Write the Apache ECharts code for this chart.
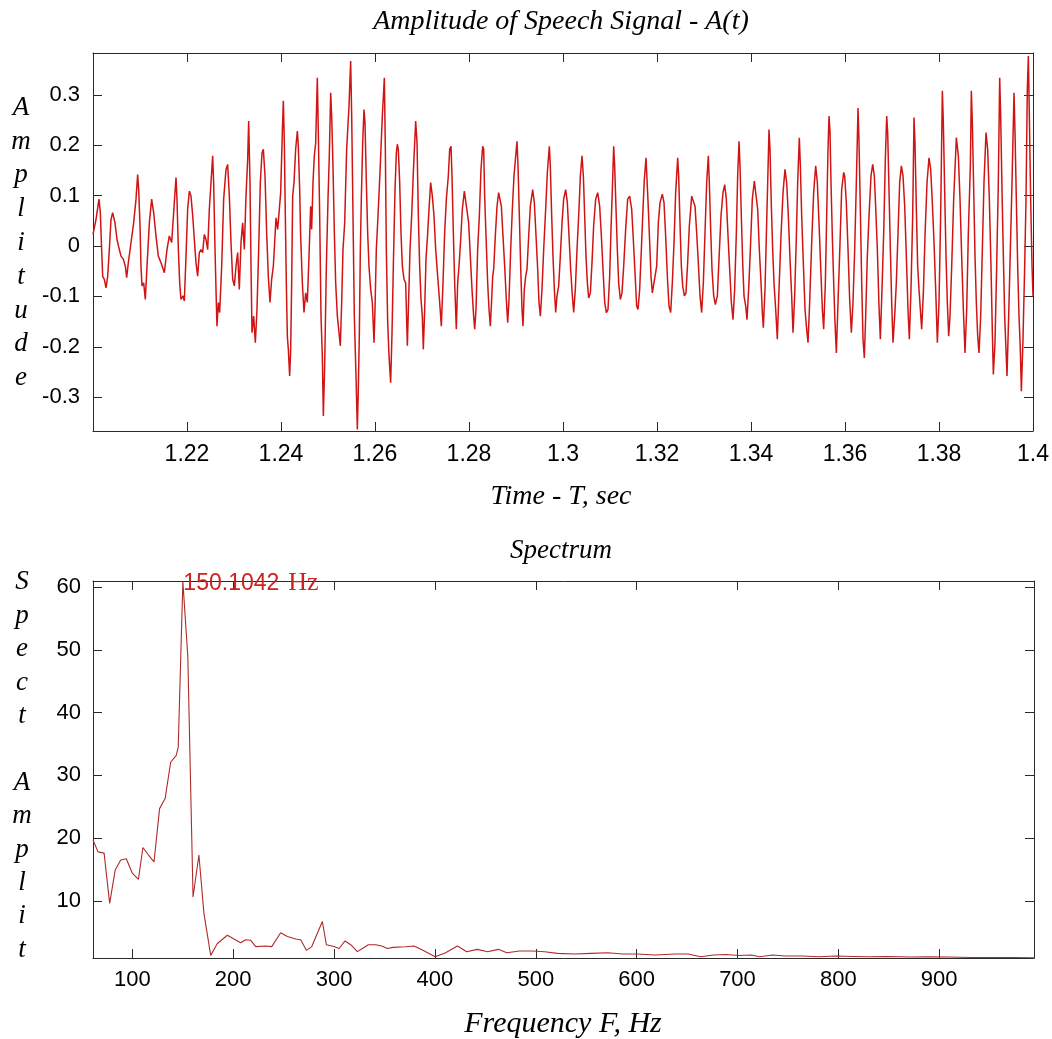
<!DOCTYPE html>
<html>
<head>
<meta charset="utf-8">
<script src="https://cdn.jsdelivr.net/npm/echarts@6/dist/echarts.min.js"></script>
<style>
  html, body { margin: 0; padding: 0; background: #ffffff; }
  #chart { width: 1052px; height: 1039px; }
</style>
</head>
<body>
<div id="chart"></div>
<script>
// ---------------- Data ----------------
// Speech signal A(t): time in seconds, amplitude
const sigT = [
  1.20000,1.20064,1.20128,1.20156,1.20184,1.20206,1.20241,1.20277,1.20312,1.20348,
  1.20383,1.20418,1.20468,1.20511,1.20560,1.20596,1.20645,1.20688,1.20716,1.20752,
  1.20809,1.20865,1.20915,1.20950,1.20972,1.21000,1.21021,1.21043,1.21078,1.21113,
  1.21149,1.21199,1.21248,1.21291,1.21340,1.21390,1.21447,1.21518,1.21574,1.21624,
  1.21674,1.21730,1.21766,1.21787,1.21816,1.21844,1.21872,1.21915,1.21943,1.21979,
  1.22014,1.22050,1.22085,1.22121,1.22156,1.22191,1.22227,1.22262,1.22298,1.22333,
  1.22369,1.22404,1.22440,1.22475,1.22511,1.22546,1.22567,1.22596,1.22624,1.22638,
  1.22667,1.22695,1.22738,1.22780,1.22830,1.22865,1.22901,1.22936,1.22972,1.23007,
  1.23043,1.23078,1.23113,1.23149,1.23184,1.23220,1.23255,1.23291,1.23312,1.23340,
  1.23362,1.23383,1.23418,1.23454,1.23489,1.23525,1.23560,1.23596,1.23624,1.23660,
  1.23695,1.23730,1.23766,1.23801,1.23837,1.23865,1.23894,1.23929,
  1.23993,1.24028,1.24050,1.24071,1.24092,1.24113,1.24135,1.24156,1.24184,1.24206,
  1.24227,1.24248,1.24277,1.24312,1.24348,1.24369,1.24397,1.24418,1.24454,1.24489,
  1.24525,1.24560,1.24596,1.24631,1.24652,1.24681,1.24709,1.24738,1.24773,1.24794,
  1.24823,1.24851,1.24879,1.24901,1.24929,1.24965,1.25000,1.25028,1.25057,1.25078,
  1.25106,1.25135,1.25163,1.25199,1.25234,1.25262,1.25291,1.25319,1.25355,1.25397,
  1.25447,1.25482,1.25504,1.25532,1.25560,1.25582,1.25603,1.25624,1.25645,1.25667,
  1.25688,1.25709,1.25738,1.25766,1.25787,1.25816,1.25844,1.25872,1.25908,1.25943,
  1.25979,1.26000,1.26028,1.26064,1.26106,1.26156,1.26199,1.26220,1.26241,1.26270,
  1.26298,1.26333,1.26362,1.26390,1.26426,1.26454,1.26475,1.26496,1.26525,1.26553,
  1.26582,1.26617,1.26652,1.26688,1.26716,1.26745,1.26780,1.26816,1.26865,1.26894,
  1.26922,1.26950,1.26979,1.27007,1.27028,1.27057,1.27085,1.27121,1.27149,1.27184,
  1.27220,1.27255,1.27291,1.27333,1.27376,1.27411,1.27447,1.27482,1.27518,1.27560,
  1.27589,1.27617,1.27638,1.27667,1.27695,1.27730,1.27759,1.27787,1.27823,1.27858,
  1.27901,
  1.27993,1.28028,1.28064,1.28099,1.28121,1.28149,1.28184,1.28220,1.28255,1.28291,
  1.28312,1.28333,1.28362,1.28397,1.28426,1.28454,1.28482,1.28504,1.28525,1.28560,
  1.28596,1.28631,1.28652,1.28688,1.28723,1.28759,1.28794,1.28823,1.28851,1.28887,
  1.28922,1.28957,1.29021,1.29043,1.29071,1.29099,1.29128,1.29149,1.29177,1.29206,
  1.29234,1.29270,1.29305,1.29355,1.29390,1.29426,1.29461,1.29489,1.29518,1.29553,
  1.29589,1.29631,1.29667,1.29709,1.29730,1.29759,1.29787,1.29816,1.29844,1.29872,
  1.29908,1.29943,1.29979,1.30014,1.30057,1.30092,1.30128,1.30163,1.30199,1.30227,
  1.30262,1.30298,1.30340,1.30369,1.30404,1.30433,1.30461,1.30489,1.30518,1.30546,
  1.30582,1.30617,1.30652,1.30695,1.30738,1.30780,1.30816,1.30851,1.30887,1.30922,
  1.30957,1.30993,1.31021,1.31050,1.31078,1.31099,1.31128,1.31156,1.31184,1.31220,
  1.31255,1.31291,1.31333,1.31376,1.31418,1.31461,1.31496,1.31532,1.31567,1.31596,
  1.31631,1.31667,1.31702,1.31730,1.31766,1.31787,1.31816,1.31844,1.31872,1.31901,
  1.31943,
  1.31993,1.32028,1.32064,1.32113,1.32149,1.32184,1.32220,1.32255,1.32291,1.32326,
  1.32362,1.32397,1.32440,1.32461,1.32489,1.32518,1.32546,1.32582,1.32617,1.32652,
  1.32688,1.32738,1.32780,1.32809,1.32844,1.32879,1.32915,1.32950,1.32986,1.33021,
  1.33057,1.33092,1.33113,1.33142,1.33170,1.33206,1.33241,1.33284,1.33319,1.33362,
  1.33404,1.33440,1.33475,1.33511,1.33546,1.33582,1.33617,1.33652,1.33688,1.33716,
  1.33745,1.33766,1.33794,1.33823,1.33851,1.33887,1.33915,1.33950,1.33986,1.34028,
  1.34071,1.34106,1.34142,1.34177,1.34213,1.34241,1.34262,1.34298,1.34326,1.34355,
  1.34383,1.34404,1.34433,1.34461,1.34489,1.34525,1.34560,1.34596,1.34638,1.34681,
  1.34723,1.34759,1.34794,1.34830,1.34865,1.34894,1.34929,1.34965,1.34993,1.35028,
  1.35050,1.35078,1.35113,1.35149,1.35184,1.35213,1.35248,1.35291,1.35333,1.35376,
  1.35411,1.35447,1.35482,1.35518,1.35546,1.35582,1.35610,1.35638,1.35660,1.35681,
  1.35702,1.35730,1.35759,1.35787,1.35816,1.35851,1.35894,1.35929,1.35972,
  1.35993,1.36028,1.36064,1.36099,1.36135,1.36170,1.36206,1.36241,1.36277,1.36298,
  1.36326,1.36355,1.36383,1.36411,1.36440,1.36475,1.36511,1.36553,1.36589,1.36624,
  1.36652,1.36688,1.36723,1.36752,1.36787,1.36823,1.36858,1.36887,1.36908,1.36936,
  1.36965,1.36993,1.37021,1.37057,1.37092,1.37128,1.37163,1.37199,1.37234,1.37270,
  1.37305,1.37340,1.37369,1.37404,1.37440,1.37468,1.37489,1.37518,1.37546,1.37574,
  1.37603,1.37631,1.37667,1.37702,1.37745,1.37787,1.37823,1.37858,1.37894,1.37929,
  1.37965,1.38000,1.38035,1.38071,1.38092,1.38121,1.38149,1.38177,1.38206,1.38234,
  1.38270,1.38312,1.38369,1.38411,1.38447,1.38482,1.38518,1.38553,1.38589,1.38624,
  1.38667,1.38688,1.38709,1.38738,1.38766,1.38794,1.38823,1.38851,1.38887,1.38922,
  1.38957,1.39000,1.39035,1.39071,1.39106,1.39135,1.39156,1.39191,1.39227,1.39262,
  1.39291,1.39312,1.39340,1.39369,1.39397,1.39447,1.39482,1.39518,1.39553,1.39596,
  1.39617,1.39645,1.39674,1.39702,1.39730,1.39752,1.39787,1.39823,1.39851,1.39879,
  1.39901,1.39922,1.39950,1.39979,1.40000
];
const sigA = [
  0.023,0.053,0.093,0.066,-0.007,-0.060,-0.066,-0.083,-0.060,-0.007,
  0.053,0.066,0.046,0.013,-0.007,-0.020,-0.026,-0.040,-0.063,-0.033,
  0.007,0.046,0.093,0.142,0.112,0.040,-0.040,-0.079,-0.073,-0.106,
  -0.040,0.046,0.093,0.066,0.020,-0.020,-0.033,-0.053,-0.007,0.020,
  0.007,0.086,0.136,0.093,-0.007,-0.073,-0.106,-0.099,-0.109,-0.020,
  0.073,0.109,0.099,0.060,0.013,-0.033,-0.060,-0.013,-0.007,-0.013,
  0.023,0.013,-0.007,0.073,0.126,0.179,0.126,-0.007,-0.112,-0.159,
  -0.112,-0.132,-0.040,0.093,0.152,0.162,0.099,0.007,-0.066,-0.079,
  -0.040,-0.013,-0.086,0.007,0.046,-0.007,0.099,0.172,0.248,0.126,
  -0.040,-0.172,-0.139,-0.192,-0.126,-0.007,0.126,0.185,0.192,0.139,
  0.026,-0.060,-0.112,-0.066,-0.040,0.007,0.056,0.033,
  0.106,0.225,0.288,0.205,0.060,-0.073,-0.179,-0.205,-0.258,-0.205,
  -0.073,0.099,0.126,0.192,0.228,0.198,0.112,0.020,-0.073,-0.132,
  -0.093,-0.112,-0.020,0.079,0.033,0.126,0.179,0.205,0.334,0.225,
  0.060,-0.139,-0.218,-0.337,-0.238,-0.040,0.093,0.179,0.304,0.258,
  0.159,0.026,-0.073,-0.139,-0.172,-0.198,-0.112,-0.007,0.046,0.192,
  0.278,0.367,0.258,0.060,-0.139,-0.212,-0.284,-0.364,-0.284,-0.172,
  -0.007,0.093,0.205,0.271,0.245,0.126,0.026,-0.040,-0.086,-0.112,
  -0.192,-0.126,-0.007,0.060,0.146,0.258,0.334,0.192,-0.007,-0.152,
  -0.218,-0.271,-0.172,-0.040,0.112,0.185,0.202,0.192,0.126,0.026,
  -0.040,-0.066,-0.073,-0.198,-0.106,-0.007,0.060,0.146,0.248,0.205,
  0.060,-0.040,-0.106,-0.139,-0.205,-0.126,-0.026,0.026,0.073,0.126,
  0.099,0.060,-0.007,-0.060,-0.112,-0.159,-0.073,0.026,0.093,0.139,
  0.192,0.198,0.139,0.026,-0.073,-0.165,-0.073,-0.040,0.013,0.073,
  0.109,
  0.046,-0.020,-0.086,-0.139,-0.165,-0.126,-0.007,0.060,0.152,0.198,
  0.192,0.099,0.020,-0.073,-0.126,-0.159,-0.106,-0.060,-0.046,0.020,
  0.079,0.106,0.106,0.079,0.020,-0.040,-0.106,-0.152,-0.106,-0.007,
  0.073,0.139,0.208,0.159,0.060,-0.040,-0.126,-0.159,-0.086,-0.060,
  -0.046,0.020,0.079,0.112,0.086,0.020,-0.046,-0.112,-0.139,-0.086,
  -0.007,0.073,0.146,0.198,0.159,0.060,-0.020,-0.086,-0.132,-0.099,
  -0.079,-0.020,0.046,0.093,0.112,0.086,0.020,-0.046,-0.099,-0.132,
  -0.086,-0.007,0.073,0.139,0.179,0.139,0.060,-0.020,-0.073,-0.103,
  -0.093,-0.033,0.040,0.093,0.106,0.079,0.020,-0.046,-0.112,-0.132,
  -0.126,-0.060,0.033,0.112,0.198,0.159,0.073,-0.007,-0.073,-0.106,
  -0.093,-0.040,0.033,0.093,0.099,0.073,0.013,-0.053,-0.119,-0.126,
  -0.086,-0.007,0.073,0.132,0.175,0.132,0.073,0.007,-0.060,-0.093,
  -0.096,
  -0.040,0.046,0.086,0.103,0.086,0.020,-0.060,-0.119,-0.132,-0.073,
  0.007,0.106,0.175,0.139,0.046,-0.040,-0.079,-0.099,-0.093,-0.033,
  0.040,0.099,0.096,0.079,0.026,-0.033,-0.099,-0.132,-0.073,0.026,
  0.126,0.179,0.126,0.033,-0.046,-0.099,-0.116,-0.099,-0.026,0.060,
  0.106,0.122,0.093,0.020,-0.046,-0.112,-0.146,-0.086,0.026,0.139,
  0.208,0.159,0.060,-0.033,-0.099,-0.119,-0.146,-0.086,-0.007,0.093,
  0.129,0.126,0.073,-0.007,-0.073,-0.132,-0.162,-0.086,0.020,0.126,
  0.231,0.192,0.079,-0.007,-0.073,-0.126,-0.185,-0.086,0.020,0.106,
  0.152,0.126,0.060,-0.026,-0.099,-0.172,-0.099,0.020,0.126,0.215,
  0.159,0.060,-0.033,-0.126,-0.165,-0.192,-0.112,0.007,0.106,0.159,
  0.126,0.046,-0.040,-0.126,-0.165,-0.073,0.060,0.192,0.258,0.225,
  0.126,0.020,-0.073,-0.152,-0.212,-0.112,0.007,0.112,0.146,
  0.139,0.086,-0.007,-0.106,-0.172,-0.112,-0.007,0.126,0.274,0.205,
  0.073,-0.073,-0.185,-0.222,-0.139,-0.020,0.060,0.139,0.162,0.139,
  0.079,-0.007,-0.119,-0.185,-0.086,0.026,0.172,0.258,0.225,0.112,
  -0.007,-0.112,-0.192,-0.139,-0.073,0.026,0.126,0.159,0.139,0.079,
  -0.020,-0.126,-0.185,-0.086,0.060,0.255,0.205,0.073,-0.040,-0.086,
  -0.126,-0.165,-0.093,0.020,0.126,0.175,0.152,0.086,0.007,-0.086,
  -0.192,-0.112,0.060,0.308,0.245,0.106,-0.020,-0.112,-0.179,-0.139,
  -0.040,0.093,0.215,0.179,0.093,-0.020,-0.126,-0.212,-0.126,0.026,
  0.159,0.308,0.245,0.112,-0.020,-0.112,-0.179,-0.212,-0.139,-0.007,
  0.126,0.225,0.192,0.093,-0.040,-0.172,-0.255,-0.192,-0.040,0.126,
  0.334,0.258,0.112,-0.020,-0.139,-0.258,-0.139,-0.007,0.126,0.304,
  0.225,0.093,-0.040,-0.139,-0.205,-0.288,-0.185,-0.040,0.093,0.311,
  0.377,0.258,0.093,-0.040,-0.099
];

// Spectrum: frequency (Hz) and spectral amplitude
const specF = [
  61, 66, 72, 77.5, 83, 88.5, 94, 100, 106, 110.5,
  116, 121.5, 127, 132.5, 138, 143.5, 145.5, 150.1042, 155, 160.2,
  166, 171, 177.7, 184.3, 194.2, 207.4, 212.4, 217.4, 222.3, 232.2,
  238.2, 247.1, 253.7, 262, 266.9, 272.6, 277.9, 288.4, 292.4, 300,
  305, 310.9, 316.5, 323.1, 328.1, 334, 341.3, 347.3, 352.9, 358.4,
  370.9, 379.3, 387.6, 400.2, 410.6, 422.3, 431.5, 441.9, 452.4, 462.8,
  471.3, 483.8, 496.3, 508.9, 521.4, 538.2, 554.9, 571.6, 586.2, 600.9,
  617.6, 638.6, 651, 663.6, 676.1, 688.7, 701.2, 713.8, 722.1, 734.7,
  747.2, 764, 780.7, 797.5, 814.2, 831, 847.6, 872.7, 889.4, 910.3,
  931.2, 952.1, 973, 994
];
const specA = [
  19.7, 17.8, 17.6, 9.6, 14.9, 16.5, 16.7, 14.4, 13.4, 18.5,
  17.3, 16.2, 24.7, 26.3, 32.1, 33.2, 34.5, 60.9, 49, 10.6,
  17.3, 8.0, 1.3, 3.2, 4.5, 3.3, 3.8, 3.7, 2.7, 2.8,
  2.7, 4.9, 4.3, 3.9, 3.8, 2.1, 2.7, 6.7, 3.0, 2.7,
  2.4, 3.6, 3.0, 1.9, 2.4, 3.0, 3.0, 2.8, 2.4, 2.58,
  2.68, 2.79, 2.15, 1.08, 1.72, 2.79, 1.88, 2.26, 1.88, 2.26,
  1.72, 1.99, 1.99, 1.88, 1.62, 1.51, 1.62, 1.72, 1.51, 1.51,
  1.35, 1.51, 1.51, 1.08, 1.35, 1.43, 1.29, 1.35, 1.08, 1.35,
  1.19, 1.19, 1.08, 1.19, 1.13, 1.08, 1.13, 1.03, 1.08, 1.03,
  0.97, 0.97, 0.97, 0.92
];
const peakFreq = 150.1042;
const peakAmp = 60.9;

// Axis ranges
const timeRange = [1.2, 1.4];
const ampRange = [-0.367, 0.383];
const freqRange = [61, 994];
const specRange = [0.88, 61];

// Texts
const titleTop = 'Amplitude of Speech Signal - A(t)';
const xNameTop = 'Time - T, sec';
const yNameTop = 'Amplitude';
const titleBottom = 'Spectrum';
const xNameBottom = 'Frequency F, Hz';
const yNameBottom = ['Spect', 'Amplit'];

// ---------------- Chart ----------------
if (sigT.length !== sigA.length) console.error('signal length mismatch', sigT.length, sigA.length);
if (specF.length !== specA.length) console.error('spectrum length mismatch');

const signalData = sigT.map((t, i) => [t, sigA[i]]);
const spectrumData = specF.map((f, i) => [f, specA[i]]);

const AX = '#2a2a2a';
const LABEL_FONT = '"Liberation Sans", Arial, sans-serif';
const serifIt = (px) => 'italic ' + px + 'px "Liberation Serif", "Times New Roman", serif';

function frameAxis(base, extra) {
  return Object.assign({
    type: 'value',
    axisLine: { show: true, onZero: false, lineStyle: { color: AX, width: 1 } },
    axisTick: { show: true, inside: true, length: 9, lineStyle: { color: AX, width: 1 } },
    splitLine: { show: false },
    axisLabel: { show: false }
  }, base, extra || {});
}
const lbl = (margin) => ({
  show: true, color: '#000', fontFamily: LABEL_FONT, fontSize: 22, margin: margin,
  showMinLabel: false, showMaxLabel: false
});

const chart = echarts.init(document.getElementById('chart'), null, { renderer: 'canvas' });

const option = {
  backgroundColor: '#ffffff',
  animation: false,
  grid: [
    { left: 93, top: 53, width: 941, height: 378, show: false },
    { left: 93, top: 581, width: 941, height: 377, show: false }
  ],
  xAxis: [
    frameAxis({ gridIndex: 0, position: 'bottom', min: timeRange[0], max: timeRange[1], interval: 0.02 },
      { axisLabel: Object.assign(lbl(12), { showMaxLabel: true, fontSize: 23 }) }),
    frameAxis({ gridIndex: 0, position: 'top', min: timeRange[0], max: timeRange[1], interval: 0.02 }),
    frameAxis({ gridIndex: 1, position: 'bottom', min: freqRange[0], max: freqRange[1], splitNumber: 9 },
      { axisLabel: lbl(11) }),
    frameAxis({ gridIndex: 1, position: 'top', min: freqRange[0], max: freqRange[1], splitNumber: 9 })
  ],
  yAxis: [
    frameAxis({ gridIndex: 0, position: 'left', min: ampRange[0], max: ampRange[1], splitNumber: 8 },
      { axisLabel: lbl(13) }),
    frameAxis({ gridIndex: 0, position: 'right', min: ampRange[0], max: ampRange[1], splitNumber: 8 }),
    frameAxis({ gridIndex: 1, position: 'left', min: specRange[0], max: specRange[1], splitNumber: 6 },
      { axisLabel: lbl(12) }),
    frameAxis({ gridIndex: 1, position: 'right', min: specRange[0], max: specRange[1], splitNumber: 6 })
  ],
  series: [
    {
      type: 'line', xAxisIndex: 0, yAxisIndex: 0, data: signalData,
      showSymbol: false, symbol: 'none', clip: true,
      lineStyle: { color: '#d01414', width: 1.5 }
    },
    {
      type: 'line', xAxisIndex: 2, yAxisIndex: 2, data: spectrumData,
      showSymbol: false, symbol: 'none', clip: true,
      lineStyle: { color: '#b02a2a', width: 1.1 },
      markPoint: {
        symbol: 'rect', symbolSize: 1,
        itemStyle: { color: 'rgba(0,0,0,0)' },
        data: [{ coord: [peakFreq, peakAmp], value: peakFreq }],
        label: {
          show: true, position: 'right', distance: 0, offset: [0, 2],
          formatter: () => '{a|' + peakFreq.toFixed(4) + '}{s| }{b|Hz}',
          rich: {
            a: { fontFamily: LABEL_FONT, fontSize: 23, color: '#cc2222' },
            s: { fontFamily: LABEL_FONT, fontSize: 23, width: 9 },
            b: { fontFamily: '"Liberation Serif", serif', fontSize: 26, color: '#cc2222' }
          }
        }
      }
    }
  ],
  graphic: [
    { type: 'text', x: 561, y: 22, style: { text: titleTop, font: serifIt(28), fill: '#000', align: 'center', verticalAlign: 'middle' } },
    { type: 'text', x: 561, y: 497, style: { text: xNameTop, font: serifIt(28), fill: '#000', align: 'center', verticalAlign: 'middle' } },
    { type: 'text', x: 21, y: 243, style: { text: yNameTop.split('').join('\n'), font: serifIt(27), lineHeight: 33.8, fill: '#000', align: 'center', verticalAlign: 'middle' } },
    { type: 'text', x: 561, y: 551, style: { text: titleBottom, font: serifIt(27), fill: '#000', align: 'center', verticalAlign: 'middle' } },
    { type: 'text', x: 563, y: 1024, style: { text: xNameBottom, font: serifIt(30), fill: '#000', align: 'center', verticalAlign: 'middle' } },
    { type: 'text', x: 22, y: 766, style: { text: yNameBottom[0].split('').join('\n') + '\n\n' + yNameBottom[1].split('').join('\n'), font: serifIt(27), lineHeight: 33.4, fill: '#000', align: 'center', verticalAlign: 'middle' } }
  ]
};
chart.setOption(option);
</script>
</body>
</html>
